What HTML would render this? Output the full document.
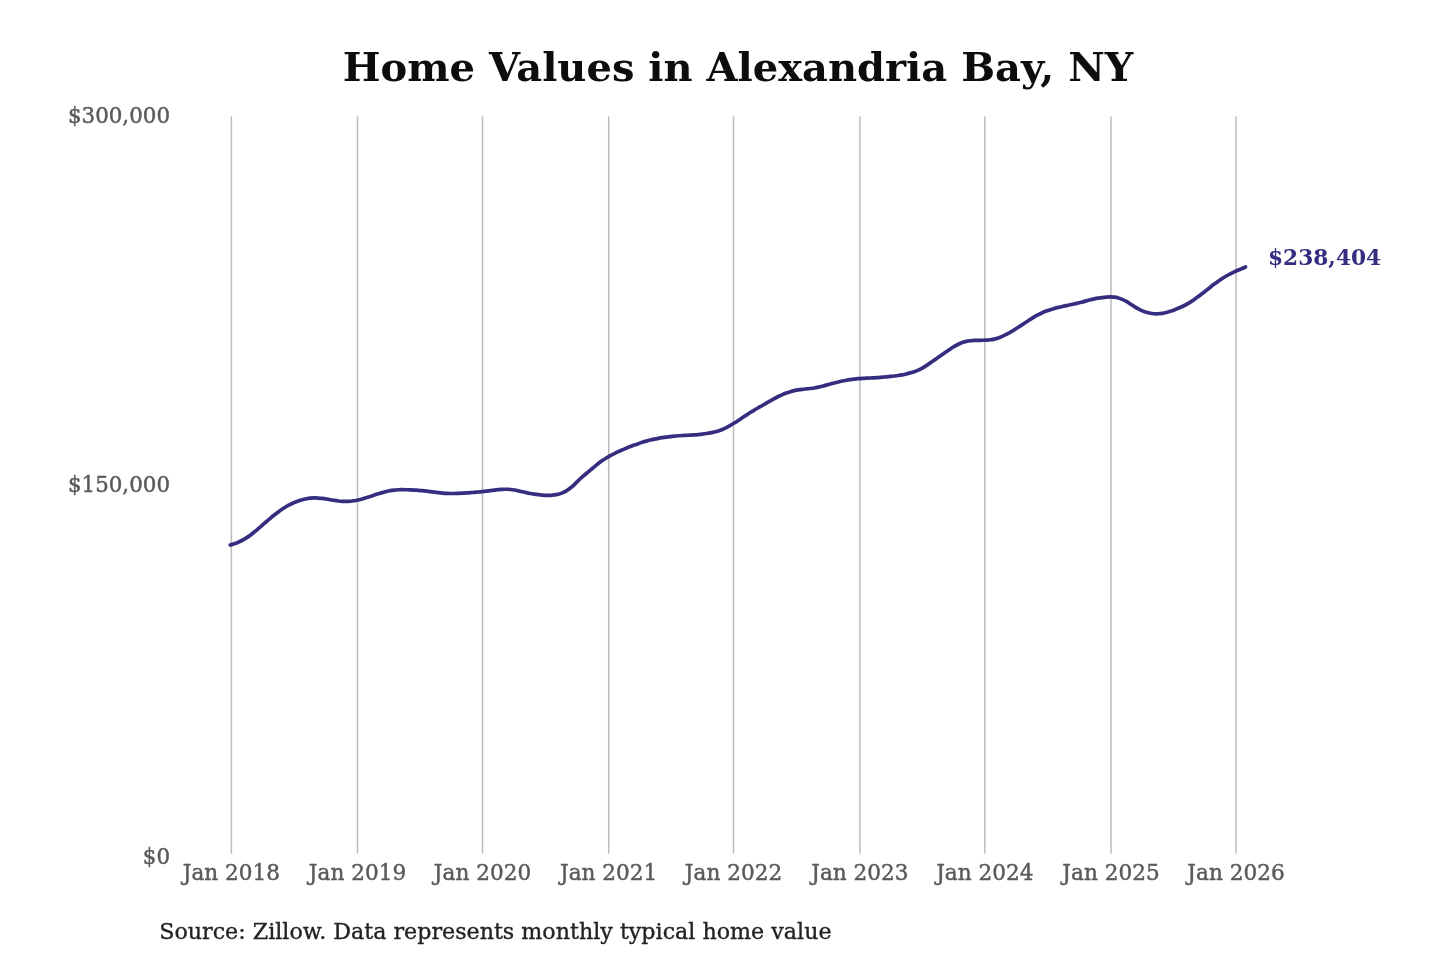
<!DOCTYPE html>
<html><head><meta charset="utf-8"><title>Home Values in Alexandria Bay, NY</title>
<style>
html,body{margin:0;padding:0;background:#fff;}
svg{display:block;font-family:"DejaVu Serif","Liberation Serif",serif;}
.grid line{stroke:#bcbcbc;stroke-width:1.5;}
.xl text{font-size:21.6px;fill:#5a5a5a;text-anchor:middle;stroke:#5a5a5a;stroke-width:0.45;}
.yl text{font-size:21.4px;fill:#5a5a5a;text-anchor:end;stroke:#5a5a5a;stroke-width:0.45;}
</style></head>
<body>
<svg width="1440" height="960" viewBox="0 0 1440 960">
<rect width="1440" height="960" fill="#fff"/>
<text x="738" y="81.2" text-anchor="middle" font-size="40" font-weight="bold" fill="#0d0d0d">Home Values in Alexandria Bay, NY</text>
<g class="grid"><line x1="231.40" x2="231.40" y1="116.5" y2="853.8"/><line x1="357.50" x2="357.50" y1="116.5" y2="853.8"/><line x1="482.50" x2="482.50" y1="116.5" y2="853.8"/><line x1="608.70" x2="608.70" y1="116.5" y2="853.8"/><line x1="733.50" x2="733.50" y1="116.5" y2="853.8"/><line x1="859.90" x2="859.90" y1="116.5" y2="853.8"/><line x1="984.80" x2="984.80" y1="116.5" y2="853.8"/><line x1="1111.00" x2="1111.00" y1="116.5" y2="853.8"/><line x1="1236.00" x2="1236.00" y1="116.5" y2="853.8"/></g>
<g class="yl">
<text x="170" y="123.1">$300,000</text>
<text x="170" y="492.3">$150,000</text>
<text x="170" y="863.5">$0</text>
</g>
<g class="xl"><text x="231.40" y="880.2">Jan 2018</text><text x="357.50" y="880.2">Jan 2019</text><text x="482.50" y="880.2">Jan 2020</text><text x="608.70" y="880.2">Jan 2021</text><text x="733.50" y="880.2">Jan 2022</text><text x="859.90" y="880.2">Jan 2023</text><text x="984.80" y="880.2">Jan 2024</text><text x="1111.00" y="880.2">Jan 2025</text><text x="1236.00" y="880.2">Jan 2026</text></g>
<path d="M230.30,545.00C230.97,544.79 232.97,544.18 234.30,543.71C235.63,543.24 236.97,542.76 238.30,542.18C239.63,541.60 240.97,540.96 242.30,540.25C243.63,539.54 244.97,538.76 246.30,537.91C247.63,537.06 248.97,536.15 250.30,535.17C251.63,534.19 252.97,533.14 254.30,532.05C255.63,530.97 256.97,529.81 258.30,528.67C259.63,527.53 260.97,526.35 262.30,525.19C263.63,524.04 264.97,522.88 266.30,521.73C267.63,520.59 268.97,519.44 270.30,518.33C271.63,517.21 272.97,516.11 274.30,515.05C275.63,513.99 276.97,512.95 278.30,511.95C279.63,510.96 280.97,509.99 282.30,509.08C283.63,508.17 284.97,507.30 286.30,506.51C287.63,505.71 288.97,504.97 290.30,504.30C291.63,503.62 292.97,503.02 294.30,502.46C295.63,501.90 296.97,501.40 298.30,500.94C299.63,500.49 300.97,500.08 302.30,499.72C303.63,499.36 304.97,499.05 306.30,498.79C307.63,498.54 308.97,498.33 310.30,498.19C311.63,498.05 312.97,497.96 314.30,497.94C315.63,497.92 316.97,497.97 318.30,498.06C319.63,498.14 320.97,498.29 322.30,498.45C323.63,498.61 324.97,498.81 326.30,499.02C327.63,499.24 328.97,499.48 330.30,499.72C331.63,499.95 332.97,500.21 334.30,500.42C335.63,500.63 336.97,500.84 338.30,500.99C339.63,501.15 340.97,501.27 342.30,501.35C343.63,501.42 344.97,501.46 346.30,501.44C347.63,501.42 348.97,501.36 350.30,501.24C351.63,501.13 352.97,500.96 354.30,500.75C355.63,500.54 356.97,500.27 358.30,499.97C359.63,499.66 360.97,499.30 362.30,498.92C363.63,498.54 364.97,498.11 366.30,497.69C367.63,497.27 368.97,496.83 370.30,496.40C371.63,495.96 372.97,495.52 374.30,495.10C375.63,494.67 376.97,494.24 378.30,493.83C379.63,493.42 380.97,493.01 382.30,492.63C383.63,492.25 384.97,491.87 386.30,491.54C387.63,491.20 388.97,490.88 390.30,490.64C391.63,490.39 392.97,490.19 394.30,490.05C395.63,489.90 396.97,489.83 398.30,489.77C399.63,489.71 400.97,489.71 402.30,489.70C403.63,489.70 404.97,489.72 406.30,489.75C407.63,489.77 408.97,489.82 410.30,489.87C411.63,489.92 412.97,489.98 414.30,490.06C415.63,490.14 416.97,490.23 418.30,490.33C419.63,490.44 420.97,490.56 422.30,490.70C423.63,490.84 424.97,490.99 426.30,491.15C427.63,491.31 428.97,491.49 430.30,491.65C431.63,491.82 432.97,492.00 434.30,492.17C435.63,492.33 436.97,492.50 438.30,492.65C439.63,492.79 440.97,492.93 442.30,493.05C443.63,493.17 444.97,493.27 446.30,493.34C447.63,493.41 448.97,493.46 450.30,493.49C451.63,493.52 452.97,493.52 454.30,493.51C455.63,493.49 456.97,493.45 458.30,493.40C459.63,493.36 460.97,493.29 462.30,493.21C463.63,493.14 464.97,493.05 466.30,492.96C467.63,492.86 468.97,492.76 470.30,492.65C471.63,492.54 472.97,492.43 474.30,492.32C475.63,492.20 476.97,492.09 478.30,491.97C479.63,491.85 480.97,491.74 482.30,491.61C483.63,491.47 484.97,491.33 486.30,491.18C487.63,491.02 488.97,490.85 490.30,490.67C491.63,490.50 492.97,490.30 494.30,490.13C495.63,489.96 496.97,489.79 498.30,489.65C499.63,489.52 500.97,489.39 502.30,489.32C503.63,489.25 504.97,489.21 506.30,489.24C507.63,489.26 508.97,489.34 510.30,489.47C511.63,489.61 512.97,489.81 514.30,490.04C515.63,490.26 516.97,490.55 518.30,490.84C519.63,491.13 520.97,491.46 522.30,491.77C523.63,492.07 524.97,492.39 526.30,492.67C527.63,492.95 528.97,493.22 530.30,493.46C531.63,493.70 532.97,493.91 534.30,494.12C535.63,494.32 536.97,494.51 538.30,494.68C539.63,494.85 540.97,495.00 542.30,495.11C543.63,495.22 544.97,495.30 546.30,495.33C547.63,495.36 548.97,495.35 550.30,495.28C551.63,495.22 552.97,495.13 554.30,494.95C555.63,494.78 556.97,494.57 558.30,494.23C559.63,493.89 560.97,493.47 562.30,492.91C563.63,492.36 564.97,491.68 566.30,490.88C567.63,490.07 568.97,489.13 570.30,488.07C571.63,487.02 572.97,485.78 574.30,484.54C575.63,483.30 576.97,481.90 578.30,480.63C579.63,479.36 580.97,478.10 582.30,476.92C583.63,475.73 584.97,474.65 586.30,473.53C587.63,472.41 588.97,471.31 590.30,470.19C591.63,469.07 592.97,467.91 594.30,466.80C595.63,465.69 596.97,464.58 598.30,463.55C599.63,462.51 600.97,461.53 602.30,460.60C603.63,459.67 604.97,458.81 606.30,457.99C607.63,457.16 608.97,456.39 610.30,455.65C611.63,454.90 612.97,454.21 614.30,453.54C615.63,452.88 616.97,452.25 618.30,451.64C619.63,451.03 620.97,450.45 622.30,449.87C623.63,449.30 624.97,448.74 626.30,448.19C627.63,447.64 628.97,447.10 630.30,446.58C631.63,446.06 632.97,445.55 634.30,445.06C635.63,444.57 636.97,444.09 638.30,443.64C639.63,443.18 640.97,442.74 642.30,442.33C643.63,441.91 644.97,441.51 646.30,441.13C647.63,440.76 648.97,440.40 650.30,440.07C651.63,439.73 652.97,439.43 654.30,439.14C655.63,438.85 656.97,438.59 658.30,438.34C659.63,438.10 660.97,437.87 662.30,437.66C663.63,437.45 664.97,437.26 666.30,437.07C667.63,436.89 668.97,436.72 670.30,436.55C671.63,436.39 672.97,436.24 674.30,436.10C675.63,435.97 676.97,435.85 678.30,435.75C679.63,435.64 680.97,435.57 682.30,435.50C683.63,435.43 684.97,435.38 686.30,435.32C687.63,435.26 688.97,435.22 690.30,435.15C691.63,435.08 692.97,435.01 694.30,434.91C695.63,434.81 696.97,434.69 698.30,434.55C699.63,434.41 700.97,434.25 702.30,434.08C703.63,433.91 704.97,433.73 706.30,433.54C707.63,433.34 708.97,433.14 710.30,432.90C711.63,432.65 712.97,432.40 714.30,432.07C715.63,431.75 716.97,431.40 718.30,430.96C719.63,430.53 720.97,430.04 722.30,429.49C723.63,428.93 724.97,428.30 726.30,427.63C727.63,426.96 728.97,426.22 730.30,425.46C731.63,424.70 732.97,423.88 734.30,423.05C735.63,422.21 736.97,421.33 738.30,420.45C739.63,419.57 740.97,418.65 742.30,417.76C743.63,416.87 744.97,415.97 746.30,415.10C747.63,414.23 748.97,413.38 750.30,412.54C751.63,411.71 752.97,410.89 754.30,410.09C755.63,409.29 756.97,408.52 758.30,407.76C759.63,406.99 760.97,406.25 762.30,405.49C763.63,404.72 764.97,403.96 766.30,403.19C767.63,402.42 768.97,401.63 770.30,400.87C771.63,400.10 772.97,399.33 774.30,398.60C775.63,397.87 776.97,397.16 778.30,396.50C779.63,395.83 780.97,395.19 782.30,394.60C783.63,394.01 784.97,393.46 786.30,392.97C787.63,392.48 788.97,392.05 790.30,391.66C791.63,391.27 792.97,390.94 794.30,390.65C795.63,390.35 796.97,390.09 798.30,389.87C799.63,389.64 800.97,389.45 802.30,389.29C803.63,389.12 804.97,389.01 806.30,388.88C807.63,388.75 808.97,388.65 810.30,388.50C811.63,388.34 812.97,388.18 814.30,387.96C815.63,387.74 816.97,387.47 818.30,387.18C819.63,386.88 820.97,386.54 822.30,386.20C823.63,385.86 824.97,385.49 826.30,385.13C827.63,384.77 828.97,384.39 830.30,384.02C831.63,383.66 832.97,383.29 834.30,382.94C835.63,382.59 836.97,382.25 838.30,381.93C839.63,381.61 840.97,381.31 842.30,381.03C843.63,380.75 844.97,380.49 846.30,380.25C847.63,380.02 848.97,379.80 850.30,379.60C851.63,379.41 852.97,379.24 854.30,379.08C855.63,378.93 856.97,378.80 858.30,378.68C859.63,378.57 860.97,378.47 862.30,378.39C863.63,378.31 864.97,378.25 866.30,378.18C867.63,378.12 868.97,378.08 870.30,378.02C871.63,377.95 872.97,377.89 874.30,377.81C875.63,377.73 876.97,377.64 878.30,377.54C879.63,377.43 880.97,377.32 882.30,377.20C883.63,377.08 884.97,376.95 886.30,376.83C887.63,376.70 888.97,376.58 890.30,376.44C891.63,376.31 892.97,376.18 894.30,376.02C895.63,375.86 896.97,375.69 898.30,375.49C899.63,375.29 900.97,375.06 902.30,374.81C903.63,374.55 904.97,374.26 906.30,373.95C907.63,373.63 908.97,373.28 910.30,372.90C911.63,372.51 912.97,372.11 914.30,371.65C915.63,371.18 916.97,370.70 918.30,370.11C919.63,369.52 920.97,368.87 922.30,368.12C923.63,367.37 924.97,366.50 926.30,365.63C927.63,364.75 928.97,363.80 930.30,362.88C931.63,361.96 932.97,361.04 934.30,360.12C935.63,359.19 936.97,358.28 938.30,357.35C939.63,356.42 940.97,355.46 942.30,354.52C943.63,353.58 944.97,352.62 946.30,351.70C947.63,350.78 948.97,349.86 950.30,348.99C951.63,348.12 952.97,347.26 954.30,346.46C955.63,345.67 956.97,344.89 958.30,344.23C959.63,343.57 960.97,342.97 962.30,342.49C963.63,342.01 964.97,341.65 966.30,341.35C967.63,341.06 968.97,340.88 970.30,340.73C971.63,340.58 972.97,340.50 974.30,340.43C975.63,340.36 976.97,340.34 978.30,340.32C979.63,340.29 980.97,340.30 982.30,340.27C983.63,340.24 984.97,340.22 986.30,340.14C987.63,340.06 988.97,339.97 990.30,339.79C991.63,339.62 992.97,339.41 994.30,339.10C995.63,338.80 996.97,338.41 998.30,337.96C999.63,337.51 1000.97,336.97 1002.30,336.39C1003.63,335.80 1004.97,335.15 1006.30,334.47C1007.63,333.78 1008.97,333.04 1010.30,332.26C1011.63,331.49 1012.97,330.67 1014.30,329.84C1015.63,329.00 1016.97,328.14 1018.30,327.27C1019.63,326.39 1020.97,325.50 1022.30,324.61C1023.63,323.72 1024.97,322.81 1026.30,321.93C1027.63,321.05 1028.97,320.17 1030.30,319.34C1031.63,318.51 1032.97,317.70 1034.30,316.93C1035.63,316.16 1036.97,315.42 1038.30,314.72C1039.63,314.03 1040.97,313.37 1042.30,312.76C1043.63,312.15 1044.97,311.59 1046.30,311.08C1047.63,310.56 1048.97,310.10 1050.30,309.66C1051.63,309.22 1052.97,308.83 1054.30,308.45C1055.63,308.08 1056.97,307.74 1058.30,307.41C1059.63,307.08 1060.97,306.79 1062.30,306.49C1063.63,306.20 1064.97,305.93 1066.30,305.65C1067.63,305.37 1068.97,305.09 1070.30,304.81C1071.63,304.52 1072.97,304.24 1074.30,303.94C1075.63,303.64 1076.97,303.34 1078.30,303.01C1079.63,302.69 1080.97,302.34 1082.30,301.98C1083.63,301.63 1084.97,301.24 1086.30,300.88C1087.63,300.51 1088.97,300.14 1090.30,299.82C1091.63,299.49 1092.97,299.18 1094.30,298.90C1095.63,298.63 1096.97,298.38 1098.30,298.15C1099.63,297.93 1100.97,297.72 1102.30,297.55C1103.63,297.38 1104.97,297.23 1106.30,297.13C1107.63,297.03 1108.97,296.96 1110.30,296.96C1111.63,296.97 1112.97,297.00 1114.30,297.16C1115.63,297.33 1116.97,297.56 1118.30,297.93C1119.63,298.31 1120.97,298.81 1122.30,299.40C1123.63,299.99 1124.97,300.72 1126.30,301.48C1127.63,302.23 1128.97,303.10 1130.30,303.94C1131.63,304.78 1132.97,305.70 1134.30,306.53C1135.63,307.35 1136.97,308.18 1138.30,308.90C1139.63,309.62 1140.97,310.27 1142.30,310.84C1143.63,311.41 1144.97,311.90 1146.30,312.31C1147.63,312.71 1148.97,313.03 1150.30,313.28C1151.63,313.52 1152.97,313.67 1154.30,313.75C1155.63,313.83 1156.97,313.82 1158.30,313.75C1159.63,313.67 1160.97,313.51 1162.30,313.30C1163.63,313.08 1164.97,312.79 1166.30,312.46C1167.63,312.13 1168.97,311.73 1170.30,311.31C1171.63,310.88 1172.97,310.40 1174.30,309.90C1175.63,309.40 1176.97,308.86 1178.30,308.30C1179.63,307.73 1180.97,307.15 1182.30,306.52C1183.63,305.89 1184.97,305.22 1186.30,304.50C1187.63,303.77 1188.97,302.99 1190.30,302.15C1191.63,301.32 1192.97,300.43 1194.30,299.50C1195.63,298.58 1196.97,297.60 1198.30,296.60C1199.63,295.61 1200.97,294.57 1202.30,293.53C1203.63,292.49 1204.97,291.42 1206.30,290.36C1207.63,289.31 1208.97,288.23 1210.30,287.19C1211.63,286.14 1212.97,285.09 1214.30,284.09C1215.63,283.08 1216.97,282.10 1218.30,281.16C1219.63,280.22 1220.97,279.31 1222.30,278.46C1223.63,277.60 1224.97,276.79 1226.30,276.01C1227.63,275.24 1228.97,274.52 1230.30,273.83C1231.63,273.14 1232.97,272.49 1234.30,271.87C1235.63,271.24 1236.97,270.64 1238.30,270.07C1239.63,269.50 1241.10,268.96 1242.30,268.45C1243.50,267.93 1244.97,267.24 1245.50,267.00" fill="none" stroke="#342d80" stroke-width="3.7" stroke-linecap="round" stroke-linejoin="round"/>
<text x="1268" y="265" font-size="21.7" font-weight="bold" fill="#342d80">$238,404</text>
<text x="159.2" y="938.5" font-size="22.2" fill="#222222" stroke="#222222" stroke-width="0.35">Source: Zillow. Data represents monthly typical home value</text>
</svg>
</body></html>
